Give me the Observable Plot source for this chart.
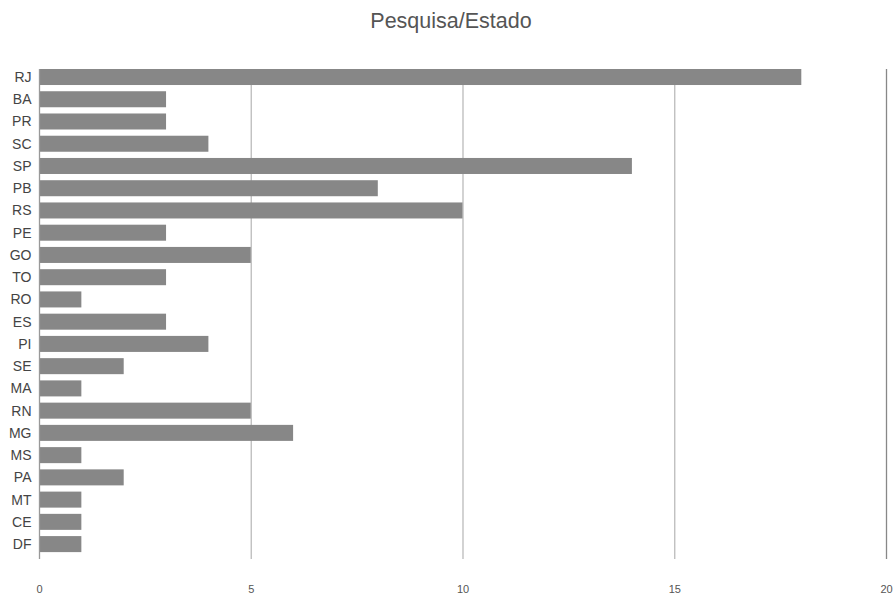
<!DOCTYPE html>
<html>
<head>
<meta charset="utf-8">
<script src="https://cdn.jsdelivr.net/npm/d3@7"></script>
<script src="https://cdn.jsdelivr.net/npm/@observablehq/plot@0.6"></script>
<style>
  html, body { margin: 0; padding: 0; background: #fff; }
  body { width: 894px; height: 595px; overflow: hidden; font-family: "Liberation Sans", Arial, sans-serif; }
  #title { height: 42px; line-height: 42px; text-align: center; font-size: 21.5px; color: #555; padding-left: 8px; }
</style>
</head>
<body>
<div id="title">Pesquisa/Estado</div>
<div id="chart"></div>
<script>
const states = ["RJ","BA","PR","SC","SP","PB","RS","PE","GO","TO","RO","ES","PI","SE","MA","RN","MG","MS","PA","MT","CE","DF"];
const counts = [18,3,3,4,14,8,10,3,5,3,1,3,4,2,1,5,6,1,2,1,1,1];
const xTicks = [0,5,10,15,20];
const lightGrid = [5,10,15];
const darkGrid = [20];

const data = states.map((s, i) => ({state: s, value: counts[i]}));

const chart = Plot.plot({
  width: 894,
  height: 553,
  marginTop: 27,
  marginBottom: 36,
  marginLeft: 39,
  marginRight: 8,
  style: {fontFamily: "'Liberation Sans', Arial, sans-serif", color: "#555", background: "#fff"},
  x: {domain: [0, 20], ticks: xTicks, label: null},
  y: {domain: states, paddingInner: 0.28, paddingOuter: 0.155, align: 0, round: false, label: null},
  marks: [
    Plot.ruleX(lightGrid, {stroke: "#bbb", strokeWidth: 1.3}),
    Plot.ruleX(darkGrid, {stroke: "#888", strokeWidth: 1.3}),
    Plot.barX(data, {x: "value", y: "state", fill: "#878787"}),
    Plot.ruleX([0], {stroke: "#999", strokeWidth: 1.3}),
    Plot.axisX({ticks: xTicks, tickSize: 0, tickPadding: 26, fontSize: 11, fill: "#555", label: null}),
    Plot.axisY({tickSize: 0, tickPadding: 8, fontSize: 14, fill: "#444", label: null})
  ]
});
document.getElementById("chart").appendChild(chart);
</script>
</body>
</html>
